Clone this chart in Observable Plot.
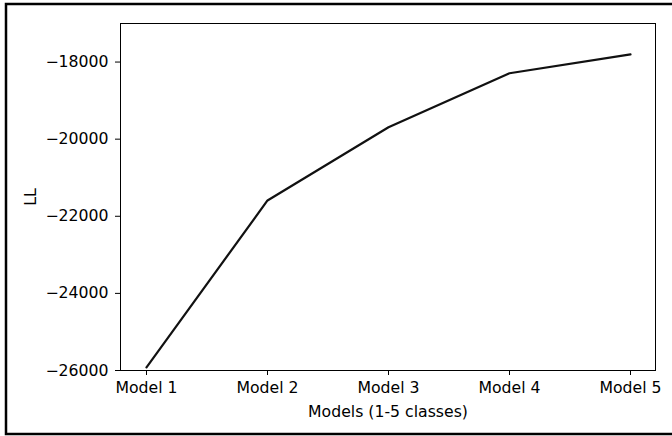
<!DOCTYPE html>
<html>
<head>
<meta charset="utf-8">
<script src="https://cdn.jsdelivr.net/npm/d3@7"></script>
<script src="https://cdn.jsdelivr.net/npm/@observablehq/plot@0.6"></script>
<style>
  html, body { margin: 0; padding: 0; background: #fff; }
  #chart svg { display: block; }
</style>
</head>
<body>
<div id="chart"></div>
<script>
const models = ["Model 1", "Model 2", "Model 3", "Model 4", "Model 5"];
const llValues = [-25920, -21590, -19690, -18290, -17800];
const yTicks = [-26000, -24000, -22000, -20000, -18000];

const data = models.map((m, i) => ({ model: m, ll: llValues[i] }));
const fmt = d => (d < 0 ? "\u2212" : "") + Math.abs(d);
const fs = 15.7;

const chart = Plot.plot({
  width: 672,
  height: 436,
  marginLeft: 120,
  marginRight: 17,
  marginTop: 23,
  marginBottom: 66,
  style: { fontFamily: "DejaVu Sans", fontSize: fs + "px", color: "#000", background: "#fff" },
  x: { type: "point", domain: models, padding: 0.2, label: null },
  y: { domain: [-26000, -17000], label: null },
  marks: [
    Plot.frame({ stroke: "#000", strokeWidth: 1 }),
    Plot.axisX({ tickSize: 5, tickPadding: 6, fontSize: fs, label: null }),
    Plot.axisY({ ticks: yTicks, tickSize: 5, tickPadding: 7, tickFormat: fmt, fontSize: fs, label: null }),
    Plot.text(["Models (1-5 classes)"], { frameAnchor: "bottom", textAnchor: "middle", dy: 46, fontSize: fs, fill: "#000" }),
    Plot.text(["LL"], { frameAnchor: "left", textAnchor: "middle", dx: -90, rotate: -90, fontSize: fs, fill: "#000" }),
    Plot.line(data, { x: "model", y: "ll", stroke: "#111", strokeWidth: 2.2 })
  ]
});

d3.select(chart).append("rect")
  .attr("x", 6).attr("y", 4)
  .attr("width", 720).attr("height", 430)
  .attr("fill", "none").attr("stroke", "#000").attr("stroke-width", 2.5);

document.getElementById("chart").appendChild(chart);
</script>
</body>
</html>
